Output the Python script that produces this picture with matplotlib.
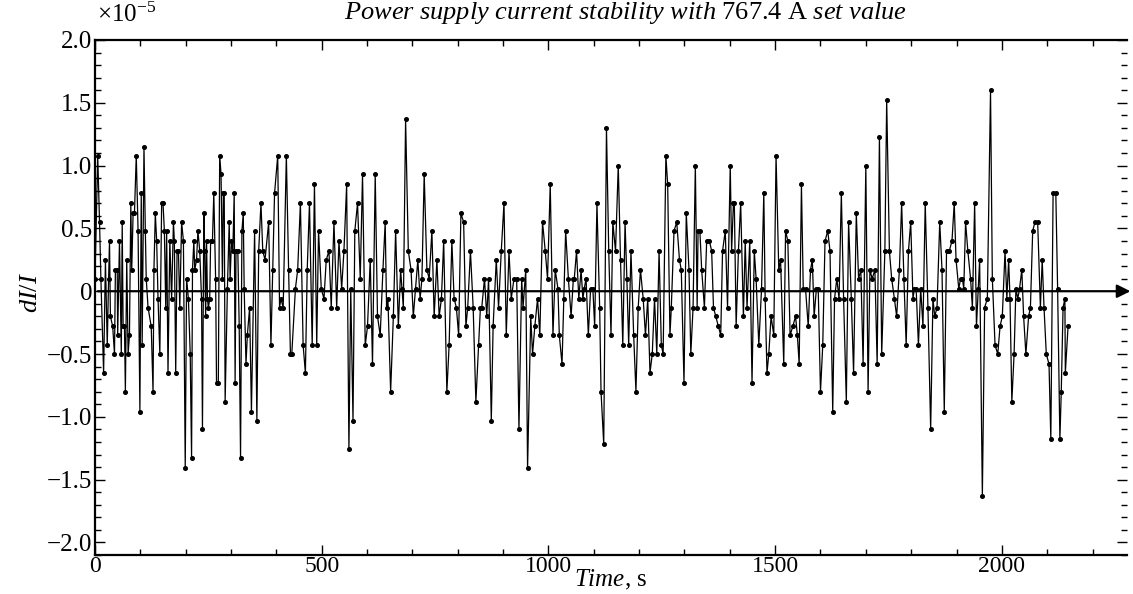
import matplotlib

matplotlib.use("Agg")
import matplotlib.pyplot as plt
from matplotlib.ticker import FixedLocator, MultipleLocator

plt.rcParams["font.family"] = ["Liberation Serif", "DejaVu Serif"]
plt.rcParams["mathtext.fontset"] = "custom"
plt.rcParams["mathtext.rm"] = "Liberation Serif"
plt.rcParams["mathtext.it"] = "Liberation Serif:italic"

# readings of the relative current deviation (units of 1e-5) vs time (s)
t_a = [0, 6, 10, 13, 19, 23, 27, 30, 32, 34, 39, 43, 45, 49, 50, 54, 58, 60, 62, 65,
       67, 70, 73, 76, 79, 81, 84, 87, 91, 95, 99, 102, 104, 108, 111, 113, 117, 124, 128, 130,
       133, 136, 139, 143, 147, 150, 153, 156, 158, 161, 165, 169, 173, 175, 178, 181, 184, 187, 191, 195,
       199, 202, 206, 210, 213]
v_a = [0.10, 1.08, 0.55, 0.10, -0.65, 0.25, -0.43, 0.10, 0.40, -0.20, -0.28, -0.50, 0.17, 0.17, -0.35, 0.40, -0.50, 0.55, -0.28, -0.28,
       -0.80, 0.25, -0.50, -0.35, 0.70, 0.17, 0.62, 0.62, 1.08, 0.48, -0.96, 0.78, -0.43, 1.15, 0.48, 0.10, -0.13, -0.28, -0.80, 0.17,
       0.62, 0.40, -0.06, -0.50, 0.70, 0.70, 0.48, -0.13, 0.48, -0.65, 0.40, -0.06, 0.55, 0.40, -0.65, 0.32, 0.32, -0.13, 0.55, 0.40,
       -1.41, 0.10, -0.06, -0.50, -1.33]

t_b = [215, 218, 220, 224, 227, 231, 235, 237, 240, 242, 244, 246, 248, 250, 253, 255, 259, 262, 266, 268,
       272, 275, 278, 281, 283, 285, 287, 292, 296, 298, 301, 304, 307, 309, 311, 315, 318, 321, 324, 327,
       329, 333, 336, 341, 345, 352, 357, 361, 366, 370, 375, 383, 388, 392, 396, 403, 407, 410, 415, 422,
       427, 431]
v_b = [0.17, 0.40, 0.17, 0.25, 0.48, 0.32, -0.06, -1.10, 0.62, 0.32, -0.20, 0.40, -0.06, -0.13, -0.06, 0.40, 0.40, 0.78, 0.10, -0.73,
       -0.73, 1.08, 0.93, 0.10, 0.78, 0.78, -0.88, 0.02, 0.55, 0.10, 0.40, 0.32, 0.78, -0.73, 0.32, 0.32, -0.28, -1.33, 0.48, 0.62,
       0.02, -0.58, -0.35, -0.13, -0.96, 0.48, -1.03, 0.32, 0.70, 0.32, 0.25, 0.55, -0.43, 0.17, 0.78, 1.08, -0.13, -0.06, -0.13, 1.08,
       0.17, -0.50]

t_c = [434, 442, 447, 453, 459, 464, 468, 473, 479, 484, 489, 493, 499, 505, 510, 516, 521, 527, 533, 538,
       544, 549, 555, 560, 564, 569, 573, 579, 585, 590, 596, 601, 607, 612, 618, 623, 629, 635, 640]
v_c = [-0.50, 0.02, 0.17, 0.70, -0.43, -0.65, 0.17, 0.70, -0.43, 0.85, -0.43, 0.48, 0.02, -0.06, 0.25, 0.32, -0.13, 0.55, -0.13, 0.40,
       0.02, 0.32, 0.85, -1.26, 0.02, -1.03, 0.48, 0.70, 0.10, 0.93, -0.43, -0.28, 0.25, -0.58, 0.93, -0.20, -0.35, 0.17, 0.55]

t_d = [643, 646, 652, 658, 663, 669, 674, 677, 680, 685, 691, 697, 702, 707, 712, 717, 721, 726, 732, 737,
       743, 748, 754, 759, 764, 769, 776, 781, 787, 792, 797, 802, 807, 813, 818, 822, 828, 834, 840, 846,
       850]
v_d = [-0.13, -0.06, -0.80, -0.20, 0.48, -0.28, 0.17, 0.02, -0.13, 1.37, 0.32, 0.17, -0.20, 0.02, 0.25, -0.06, 0.10, 0.93, 0.17, 0.10,
       0.48, -0.20, 0.25, -0.20, -0.06, 0.40, -0.80, -0.43, 0.40, -0.06, -0.13, -0.35, 0.62, 0.55, -0.28, -0.13, 0.32, -0.13, -0.88, -0.43,
       -0.13]

t_e = [853, 859, 864, 868, 874, 878, 885, 890, 896, 902, 907, 913, 918, 924, 930, 935, 941, 944, 950, 954,
       961, 965, 970, 976, 981, 987, 993, 998, 1004, 1010, 1015, 1021, 1024, 1030, 1034, 1038, 1044, 1050, 1055]
v_e = [-0.13, 0.10, -0.20, 0.10, -1.03, -0.28, 0.25, -0.13, 0.32, 0.70, -0.35, 0.32, -0.06, 0.10, 0.10, -1.10, 0.10, -0.13, 0.17, -1.41,
       -0.20, -0.50, -0.28, -0.06, -0.35, 0.55, 0.32, 0.10, 0.85, -0.35, 0.17, 0.02, -0.35, -0.58, -0.06, 0.48, 0.10, -0.20, 0.10]

t_f = [1057, 1062, 1067, 1072, 1076, 1079, 1083, 1088, 1093, 1098, 1102, 1107, 1113, 1116, 1122, 1128, 1133, 1138, 1142, 1148,
       1154, 1159, 1164, 1169, 1173, 1177, 1182, 1188, 1193, 1198, 1203, 1209, 1214, 1219, 1224, 1229, 1234, 1239, 1244, 1249,
       1253, 1259, 1263, 1268]
v_f = [0.10, 0.32, -0.06, 0.17, -0.06, 0.02, 0.10, -0.35, 0.02, 0.02, -0.28, 0.70, -0.13, -0.80, -1.22, 1.30, 0.32, -0.35, 0.55, 0.32,
       1.00, 0.25, -0.43, 0.55, 0.10, -0.43, 0.32, -0.35, -0.80, -0.13, 0.17, -0.06, -0.35, -0.06, -0.65, -0.50, -0.06, -0.50, 0.32, -0.43,
       -0.50, 1.08, 0.85, -0.35]

t_g = [1271, 1277, 1283, 1289, 1293, 1299, 1304, 1310, 1314, 1319, 1324, 1328, 1330, 1334, 1338, 1344, 1349, 1355, 1360, 1364,
       1369, 1375, 1380, 1384, 1390, 1395, 1401, 1404, 1408, 1410, 1414, 1419, 1424, 1430, 1434, 1438, 1444, 1449, 1454, 1458,
       1464, 1470, 1475, 1478]
v_g = [-0.13, 0.48, 0.55, 0.25, 0.17, -0.73, 0.62, 0.17, -0.50, -0.13, 1.00, -0.13, 0.48, 0.48, 0.17, -0.13, 0.40, 0.40, 0.32, -0.13,
       -0.20, -0.28, -0.35, 0.32, 0.48, -0.13, 1.00, 0.32, 0.70, 0.70, -0.28, 0.32, 0.70, -0.20, 0.40, -0.13, 0.40, -0.73, 0.32, 0.10,
       -0.43, 0.02, 0.78, -0.06]

t_h = [1482, 1486, 1491, 1497, 1502, 1508, 1512, 1519, 1523, 1528, 1533, 1539, 1545, 1549, 1553, 1558, 1562, 1567, 1573, 1578,
       1582, 1586, 1591, 1595, 1600, 1605, 1610, 1616, 1621, 1627, 1631, 1636, 1641, 1646, 1651, 1657, 1662, 1668, 1673, 1679,
       1684]
v_h = [-0.65, -0.50, -0.20, -0.35, 1.08, 0.17, 0.25, -0.58, 0.48, 0.40, -0.35, -0.28, -0.20, -0.35, -0.58, 0.85, 0.02, 0.02, -0.28, 0.17,
       0.25, -0.20, 0.02, 0.02, -0.80, -0.43, 0.40, 0.48, 0.32, -0.96, -0.06, 0.10, -0.06, 0.78, -0.06, -0.88, 0.55, -0.06, -0.65, 0.62,
       0.10]

t_i = [1689, 1694, 1700, 1705, 1709, 1714, 1720, 1725, 1730, 1735, 1742, 1746, 1752, 1757, 1763, 1768, 1774, 1779, 1784, 1789,
       1794, 1799, 1804, 1807, 1811, 1816, 1821, 1826, 1831, 1837, 1843, 1848, 1852, 1857, 1863, 1868, 1873, 1878, 1884, 1890,
       1895]
v_i = [0.17, -0.58, 1.00, -0.80, 0.17, 0.10, 0.17, -0.58, 1.23, -0.50, 0.32, 1.52, 0.32, 0.10, -0.06, -0.20, 0.17, 0.70, 0.10, -0.43,
       0.32, 0.55, -0.06, 0.02, 0.02, -0.43, 0.02, -0.28, 0.70, -0.13, -1.10, -0.06, -0.20, -0.13, 0.55, 0.17, -0.96, 0.32, 0.32, 0.40,
       0.70]

t_j = [1899, 1905, 1909, 1913, 1916, 1920, 1925, 1931, 1935, 1940, 1944, 1948, 1951, 1957, 1962, 1968, 1975, 1979, 1985, 1991,
       1996, 2001, 2007, 2011, 2015, 2018, 2022, 2027, 2031, 2035, 2039, 2044, 2048, 2053, 2059, 2063, 2068, 2073, 2079, 2085,
       2089, 2093, 2098, 2104, 2108, 2113, 2119, 2123, 2128, 2131, 2135, 2139, 2140, 2146]
v_j = [0.25, 0.02, 0.10, 0.10, 0.02, 0.55, 0.32, 0.10, -0.13, 0.70, -0.28, 0.02, 0.25, -1.63, -0.13, -0.06, 1.60, 0.10, -0.43, -0.50,
       -0.28, -0.20, 0.32, -0.06, 0.25, -0.06, -0.88, -0.50, 0.02, -0.06, 0.02, 0.17, -0.20, -0.50, -0.20, -0.13, 0.48, 0.55, 0.55, -0.13,
       0.25, -0.13, -0.50, -0.58, -1.18, 0.78, 0.78, 0.02, -1.18, -0.80, -0.13, -0.06, -0.65, -0.28]

time_s = t_a + t_b + t_c + t_d + t_e + t_f + t_g + t_h + t_i + t_j
dI_I = v_a + v_b + v_c + v_d + v_e + v_f + v_g + v_h + v_i + v_j

y_ticks = [-2.0, -1.5, -1.0, -0.5, 0.0, 0.5, 1.0, 1.5, 2.0]
y_tick_labels = ["\u22122.0", "\u22121.5", "\u22121.0", "\u22120.5", "0", "0.5", "1.0", "1.5", "2.0"]
x_ticks = [0, 500, 1000, 1500, 2000]

W, H = 1133, 594
fig = plt.figure(figsize=(W / 100, H / 100), dpi=100)
ax = fig.add_axes([95 / W, 39 / H, 1032 / W, 515 / H])

ax.plot(time_s, dI_I, color="black", lw=0.9, marker="o", ms=2.6)
ax.annotate("", xy=(1.006, 0), xycoords=("axes fraction", "data"),
            xytext=(0, 0), textcoords="data", annotation_clip=False,
            arrowprops=dict(arrowstyle="-|>", color="black", lw=1.6, mutation_scale=20))

ax.set_xlim(0, 2276)
ax.set_ylim(-2.1, 2.0)
ax.xaxis.set_major_locator(FixedLocator(x_ticks))
ax.xaxis.set_minor_locator(MultipleLocator(100))
ax.yaxis.set_major_locator(FixedLocator(y_ticks))
ax.set_yticklabels(y_tick_labels)
ax.yaxis.set_minor_locator(MultipleLocator(0.1))
ax.tick_params(which="both", direction="in", top=True, right=True, labelsize=18, width=1.0)
ax.tick_params(axis="x", labelsize=17)
ax.tick_params(which="major", length=7, pad=2)
ax.tick_params(axis="x", which="major", pad=1)
ax.tick_params(which="minor", length=4)
for side in ["left", "bottom", "top"]:
    ax.spines[side].set_linewidth(1.6)
ax.spines["right"].set_visible(False)

fig.text(611 / W, 2 / H, r"$\mathit{Time}$, s", ha="center", va="bottom", fontsize=18)
fig.text(31 / W, 1 - 292 / H, r"$\mathit{dI/I}$", ha="center", va="center", rotation=90, fontsize=19)
fig.text(625 / W, 1 - 13 / H,
         r"$\mathit{Power\ supply\ current\ stability\ with}\ \mathrm{767.4\ A}\ \mathit{set\ value}$",
         ha="center", va="center", fontsize=19)
fig.text(97 / W, 1 - 15 / H, r"$\times10^{-5}$", ha="left", va="center", fontsize=18)

fig.savefig("out.png", dpi=100)
